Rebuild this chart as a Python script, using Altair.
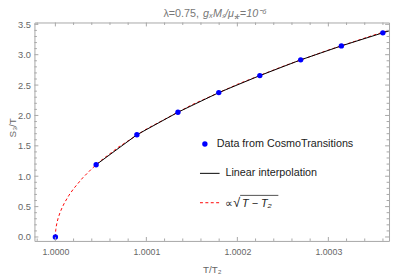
import altair as alt
import pandas as pd

# Data points
t_data = [1.0, 1.0000448, 1.0000896, 1.0001347, 1.0001796, 1.0002247, 1.0002696, 1.0003143, 1.0003599]
s_data = [0.0, 1.189, 1.682, 2.053, 2.376, 2.656, 2.915, 3.145, 3.360]

# Linear interpolation line (from 2nd point, continued to frame edge)
t_lin = [1.0000448, 1.0000896, 1.0001347, 1.0001796, 1.0002247, 1.0002696, 1.0003143, 1.0003599, 1.0003667]
s_lin = [1.189, 1.682, 2.053, 2.376, 2.656, 2.915, 3.145, 3.360, 3.392]

# sqrt(T - T2) fit curve
t_fit = [1.0, 1.0000002, 1.0000005, 1.000001, 1.000002, 1.000003, 1.000005, 1.0000075, 1.00001,
         1.000015, 1.00002, 1.00003, 1.00004, 1.00005, 1.00007, 1.0001, 1.00015, 1.0002,
         1.00025, 1.0003, 1.00035, 1.0003667]
s_fit = [0.0, 0.079, 0.126, 0.178, 0.251, 0.308, 0.397, 0.487, 0.562,
         0.688, 0.794, 0.973, 1.123, 1.256, 1.486, 1.776, 2.175, 2.512,
         2.808, 3.076, 3.323, 3.401]

# Tick values
x_major = [1.0, 1.0001, 1.0002, 1.0003]
x_minor = [0.99998, 1.00002, 1.00004, 1.00006, 1.00008, 1.00012, 1.00014, 1.00016, 1.00018,
           1.00022, 1.00024, 1.00026, 1.00028, 1.00032, 1.00034, 1.00036]
y_major = [0.0, 0.5, 1.0, 1.5, 2.0, 2.5, 3.0, 3.5]
y_minor = [0.1, 0.2, 0.3, 0.4, 0.6, 0.7, 0.8, 0.9, 1.1, 1.2, 1.3, 1.4, 1.6, 1.7, 1.8, 1.9,
           2.1, 2.2, 2.3, 2.4, 2.6, 2.7, 2.8, 2.9, 3.1, 3.2, 3.3, 3.4]

W, H = 362, 223
FONT = "Liberation Sans"
FRAME = "#a6a6a6"
LABEL = "#666666"

xs = alt.Scale(domain=[0.999977, 1.0003667], nice=False, zero=False)
ys = alt.Scale(domain=[-0.065, 3.53], nice=False, zero=False)

df_pts = pd.DataFrame({"t": t_data, "s": s_data})
df_lin = pd.DataFrame({"t": t_lin, "s": s_lin})
df_fit = pd.DataFrame({"t": t_fit, "s": s_fit})

xaxis = alt.Axis(values=x_major, format=".4f", tickSize=0, domain=False, grid=False,
                 labelPadding=7, labelFontSize=9, labelColor=LABEL, labelFont=FONT,
                 labelOverlap=False,
                 title="T/T₂", titleFont=FONT, titleFontSize=10, titleColor=LABEL,
                 titleFontWeight="normal", titlePadding=8)
yaxis = alt.Axis(values=y_major, format=".1f", tickSize=0, domain=False, grid=False,
                 labelPadding=4, labelFontSize=9.5, labelColor=LABEL, labelFont=FONT,
                 labelOverlap=False, title=None)

X = alt.X("t:Q", scale=xs, axis=xaxis)
Y = alt.Y("s:Q", scale=ys, axis=yaxis)

fit = alt.Chart(df_fit).mark_line(color="#ff0000", strokeWidth=1, strokeDash=[3, 2.5], clip=True).encode(x=X, y=Y)
lin = alt.Chart(df_lin).mark_line(color="#000000", strokeWidth=1, clip=True).encode(x=X, y=Y)
pts = alt.Chart(df_pts).mark_circle(color="#0000ff", opacity=1, size=30).encode(x=X, y=Y)

def xt(vals, y0, y1):
    return alt.Chart(pd.DataFrame({"t": vals})).mark_rule(color=FRAME, strokeWidth=1).encode(
        x=X, y=alt.value(y0), y2=alt.value(y1))

def yt(vals, x0, x1):
    return alt.Chart(pd.DataFrame({"s": vals})).mark_rule(color=FRAME, strokeWidth=1).encode(
        y=Y, x=alt.value(x0), x2=alt.value(x1))

ticks = [
    xt(x_major, H, H - 4), xt(x_minor, H, H - 2.5), xt(x_major, 0, 4), xt(x_minor, 0, 2.5),
    yt(y_major, 0, 4), yt(y_minor, 0, 2.5), yt(y_major, W, W - 4), yt(y_minor, W, W - 2.5),
]

one = pd.DataFrame({"a": [0]})

def txt(s, x, y, size=11, style="normal", color="#222222", align="left", angle=0):
    return alt.Chart(one).mark_text(text=s, font=FONT, fontSize=size, fontStyle=style, color=color,
                                    align=align, baseline="middle", angle=angle).encode(
        x=alt.value(x), y=alt.value(y))

leg = [
    alt.Chart(one).mark_circle(color="#0000ff", opacity=1, size=30).encode(x=alt.value(174), y=alt.value(124)),
    txt("Data from CosmoTransitions", 186, 124),
    alt.Chart(one).mark_rule(color="#000000", strokeWidth=1).encode(x=alt.value(169), x2=alt.value(189), y=alt.value(154)),
    txt("Linear interpolation", 195, 154),
    alt.Chart(one).mark_rule(color="#ff0000", strokeWidth=1, strokeDash=[3, 2.5]).encode(x=alt.value(169), x2=alt.value(189), y=alt.value(184)),
    txt("∝", 195, 185),
    txt("√", 203, 184, size=13),
    alt.Chart(one).mark_rule(color="#222222", strokeWidth=0.8).encode(x=alt.value(210), x2=alt.value(249), y=alt.value(176.5)),
    txt("T − T₂", 212, 185, style="italic"),
    txt("λ=0.75,", 168, -9, size=11, color="#777777", align="right"),
    txt("gₓMₛ/μ⁎=10⁻⁶", 172, -9, size=11, style="italic", color="#777777", align="left"),
    txt("S₃/T", -22, H / 2 - 4, size=10, color=LABEL, align="center", angle=270),
]

chart = alt.layer(fit, lin, pts, *ticks, *leg).properties(
    width=W, height=H,
    autosize=alt.AutoSizeParams(type="none"),
    padding={"left": 27, "top": 12, "right": 2, "bottom": 33},
).configure_view(stroke=FRAME, strokeWidth=1)

chart.save("out.html", embed_options={"renderer": "svg", "actions": False})
